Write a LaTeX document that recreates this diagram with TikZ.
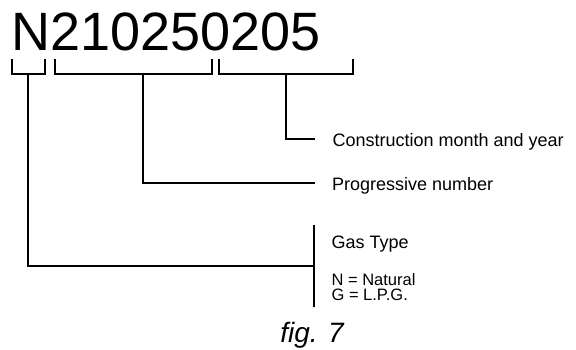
\documentclass[tikz,border=0pt]{standalone}
\usepackage{fontspec}
\setmainfont{Liberation Sans}
\usetikzlibrary{positioning}

\begin{document}
\begin{tikzpicture}[x=1pt, y=-1pt, line width=1.2pt,
  serial/.style={inner sep=0pt, anchor=base, font=\fontsize{54}{54}\selectfont},
  lbl/.style={inner sep=0pt, anchor=base west, font=\fontsize{18}{18}\selectfont},
  small/.style={lbl, align=left, font=\fontsize{16.5}{18}\selectfont},
  caption/.style={inner sep=0pt, anchor=base, font=\fontsize{28}{28}\selectfont\itshape}]
  \useasboundingbox (0,0) rectangle (576,350);
  \node[serial] (sn) at (166,51) {N210250205};
  % bracket feet and line ends
  \coordinate (b1) at (28,74);
  \coordinate (b2) at (143,74);
  \coordinate (b3) at (286,74);
  \coordinate (cmend) at (315,139);
  \coordinate (pnend) at (315,183);
  \coordinate (gtop) at (314,225);
  \coordinate (gend) at (314,266);
  \coordinate (gbot) at (314,307);
  \draw (12,59) -- (12,74) -- (45,74) -- (45,59);
  \draw (55,59) -- (55,74) -- (212,74) -- (212,59);
  \draw (219,59) -- (219,74) -- (353,74) -- (353,59);
  \node[lbl] (cm) at (332,147) {Construction month and year};
  \node[lbl] (pn) at (331.5,191) {Progressive number};
  \node[lbl] (gt) at (331,248) {Gas Type};
  \node[small] (gn) at (331,300.5) {N = Natural\\[-3pt]G = L.P.G.};
  \draw (b3) |- (cmend);
  \draw (b2) |- (pnend);
  \draw (b1) |- (gend);
  \draw (gtop) -- (gbot);
  \node[caption] (fig) at (312,342) {fig. 7};
\end{tikzpicture}
\end{document}
